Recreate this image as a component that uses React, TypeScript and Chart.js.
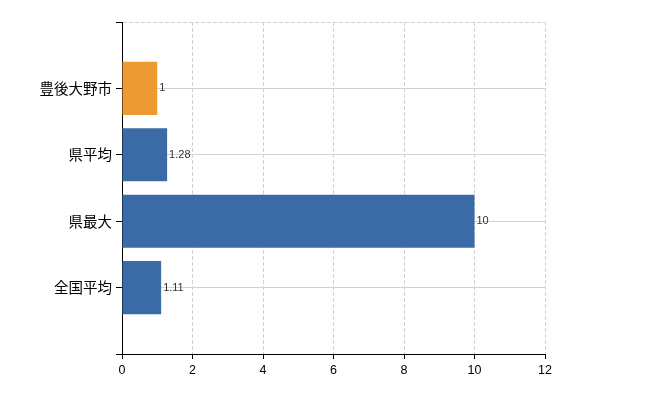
import React, { useEffect, useRef } from "react";
import { Chart, registerables } from "chart.js";

Chart.register(...registerables);

const categories: string[] = ["豊後大野市", "県平均", "県最大", "全国平均"];
const values: number[] = [1, 1.28, 10, 1.11];
const barColors: string[] = ["#EE9A33", "#3A6BA6", "#3A6BA6", "#3A6BA6"];
const xTicks: number[] = [0, 2, 4, 6, 8, 10, 12];

const valueLabelPlugin = {
  id: "valueLabels",
  afterDatasetsDraw(chart: any) {
    const ctx = chart.ctx;
    const meta = chart.getDatasetMeta(0);
    const ds = chart.data.datasets[0];
    ctx.save();
    ctx.font = "11px 'Liberation Sans', Arial, sans-serif";
    ctx.fillStyle = "#333";
    ctx.textAlign = "left";
    ctx.textBaseline = "middle";
    meta.data.forEach((bar: any, i: number) => {
      const v = ds.data[i];
      if (v === null || v === undefined) return;
      ctx.fillText(String(v), bar.x + 2, bar.y);
    });
    ctx.restore();
  },
};

export default function App() {
  const ref = useRef<HTMLCanvasElement | null>(null);
  useEffect(() => {
    if (!ref.current) return;
    const labels = ["", ...categories, ""];
    const data = [null, ...values, null];
    const colors = ["transparent", ...barColors, "transparent"];
    const chart = new Chart(ref.current, {
      type: "bar",
      data: {
        labels,
        datasets: [
          {
            data: data as any,
            backgroundColor: colors,
            categoryPercentage: 1,
            barPercentage: 0.8,
          },
        ],
      },
      plugins: [valueLabelPlugin],
      options: {
        indexAxis: "y",
        animation: false,
        responsive: false,
        maintainAspectRatio: false,
        layout: { padding: { left: 0, top: 22, right: 105, bottom: 0 } },
        plugins: { legend: { display: false }, tooltip: { enabled: false } },
        scales: {
          x: {
            type: "linear",
            min: 0,
            max: 12,
            afterBuildTicks: (scale: any) => {
              scale.ticks = xTicks.map((v) => ({ value: v }));
            },
            afterFit: (scale: any) => {
              scale.height = 46;
            },
            grid: {
              color: "#d2d2d2",
              lineWidth: 1,
              drawTicks: true,
              tickLength: 5,
              tickColor: "#000",
            },
            border: { display: true, color: "#000", width: 1, dash: [4, 2] },
            ticks: {
              color: "#000",
              font: { family: "'Liberation Sans', Arial, sans-serif", size: 12.5 },
              padding: 4,
            },
          },
          y: {
            type: "category",
            offset: false,
            afterFit: (scale: any) => {
              scale.width = 122;
            },
            grid: {
              color: "#d2d2d2",
              lineWidth: 1,
              drawTicks: true,
              tickLength: 6,
              tickColor: "#000",
              offset: false,
            },
            border: {
              display: true,
              color: "#000",
              width: 1,
              dash: (ctx: any) => (ctx.index === 0 ? [4, 2] : []),
            } as any,
            ticks: {
              color: "#000",
              font: { family: "'Noto Sans CJK JP', sans-serif", size: 14.5 },
              padding: 4,
              autoSkip: false,
            },
          },
        },
      } as any,
    });
    return () => chart.destroy();
  }, []);
  return (
    <div style={{ position: "absolute", left: 0, top: 0, width: 650, height: 400, background: "#fff" }}>
      <canvas ref={ref} width={650} height={400} style={{ width: 650, height: 400 }} />
    </div>
  );
}
